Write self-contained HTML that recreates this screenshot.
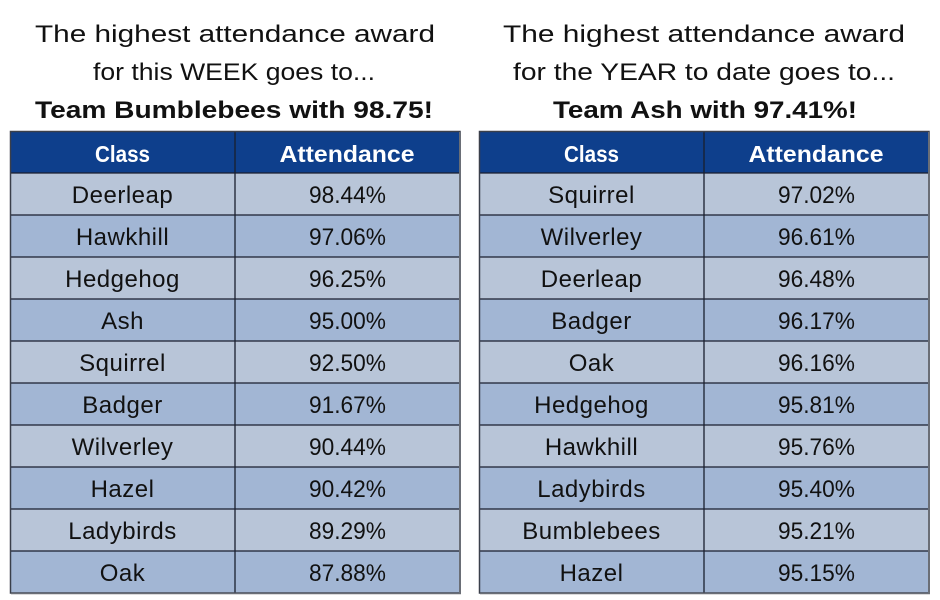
<!DOCTYPE html>
<html><head><meta charset="utf-8"><style>
html,body{margin:0;padding:0;background:#fff;}
svg{display:block;}
text{font-family:"Liberation Sans",sans-serif;}
</style></head><body>
<svg width="940" height="600" viewBox="0 0 940 600" xmlns="http://www.w3.org/2000/svg">
<rect width="940" height="600" fill="#fff"/>
<!-- Titles -->
<g font-size="24" fill="#111" text-anchor="middle">
<text x="235" y="42" textLength="400" lengthAdjust="spacingAndGlyphs">The highest attendance award</text>
<text x="234" y="80" textLength="282" lengthAdjust="spacingAndGlyphs">for this WEEK goes to...</text>
<text x="234" y="118" font-weight="bold" textLength="398" lengthAdjust="spacingAndGlyphs">Team Bumblebees with 98.75!</text>
<text x="704" y="42" textLength="402" lengthAdjust="spacingAndGlyphs">The highest attendance award</text>
<text x="704" y="80" textLength="382" lengthAdjust="spacingAndGlyphs">for the YEAR to date goes to...</text>
<text x="705" y="118" font-weight="bold" textLength="304" lengthAdjust="spacingAndGlyphs">Team Ash with 97.41%!</text>
</g>

<!-- Left table -->
<g>
<rect x="10" y="131" width="450" height="42" fill="#0e3f8c"/>
<rect x="10" y="173" width="450" height="42" fill="#b8c5d8"/>
<rect x="10" y="215" width="450" height="42" fill="#a2b6d4"/>
<rect x="10" y="257" width="450" height="42" fill="#b8c5d8"/>
<rect x="10" y="299" width="450" height="42" fill="#a2b6d4"/>
<rect x="10" y="341" width="450" height="42" fill="#b8c5d8"/>
<rect x="10" y="383" width="450" height="42" fill="#a2b6d4"/>
<rect x="10" y="425" width="450" height="42" fill="#b8c5d8"/>
<rect x="10" y="467" width="450" height="42" fill="#a2b6d4"/>
<rect x="10" y="509" width="450" height="42" fill="#b8c5d8"/>
<rect x="10" y="551" width="450" height="42" fill="#a2b6d4"/>
<g stroke="#1a1f2e" stroke-width="1.3">
<line x1="10" y1="173" x2="460" y2="173"/>
<line x1="10" y1="215" x2="460" y2="215"/>
<line x1="10" y1="257" x2="460" y2="257"/>
<line x1="10" y1="299" x2="460" y2="299"/>
<line x1="10" y1="341" x2="460" y2="341"/>
<line x1="10" y1="383" x2="460" y2="383"/>
<line x1="10" y1="425" x2="460" y2="425"/>
<line x1="10" y1="467" x2="460" y2="467"/>
<line x1="10" y1="509" x2="460" y2="509"/>
<line x1="10" y1="551" x2="460" y2="551"/>
<line x1="235" y1="131" x2="235" y2="593"/>
</g>
<rect x="10.5" y="131.5" width="449.5" height="461.5" fill="none" stroke="#3a3f4a" stroke-width="1.5"/>
<line x1="460" y1="132" x2="460" y2="594" stroke="#6a6e76" stroke-width="2"/>
<line x1="11" y1="593.5" x2="461" y2="593.5" stroke="#6a6e76" stroke-width="1.5"/>
<g font-size="23" font-weight="bold" fill="#fff" text-anchor="middle">
<text x="122.5" y="162" textLength="55" lengthAdjust="spacingAndGlyphs">Class</text>
<text x="347" y="162" textLength="135" lengthAdjust="spacingAndGlyphs">Attendance</text>
</g>
<g font-size="24" fill="#111" text-anchor="middle" letter-spacing="0.5">
<text x="122.5" y="203">Deerleap</text>
<text x="122.5" y="245">Hawkhill</text>
<text x="122.5" y="287">Hedgehog</text>
<text x="122.5" y="329">Ash</text>
<text x="122.5" y="371">Squirrel</text>
<text x="122.5" y="413">Badger</text>
<text x="122.5" y="455">Wilverley</text>
<text x="122.5" y="497">Hazel</text>
<text x="122.5" y="539">Ladybirds</text>
<text x="122.5" y="581">Oak</text>
</g>
<g font-size="24" fill="#111" text-anchor="middle">
<text x="347.5" y="203" textLength="77" lengthAdjust="spacingAndGlyphs">98.44%</text>
<text x="347.5" y="245" textLength="77" lengthAdjust="spacingAndGlyphs">97.06%</text>
<text x="347.5" y="287" textLength="77" lengthAdjust="spacingAndGlyphs">96.25%</text>
<text x="347.5" y="329" textLength="77" lengthAdjust="spacingAndGlyphs">95.00%</text>
<text x="347.5" y="371" textLength="77" lengthAdjust="spacingAndGlyphs">92.50%</text>
<text x="347.5" y="413" textLength="77" lengthAdjust="spacingAndGlyphs">91.67%</text>
<text x="347.5" y="455" textLength="77" lengthAdjust="spacingAndGlyphs">90.44%</text>
<text x="347.5" y="497" textLength="77" lengthAdjust="spacingAndGlyphs">90.42%</text>
<text x="347.5" y="539" textLength="77" lengthAdjust="spacingAndGlyphs">89.29%</text>
<text x="347.5" y="581" textLength="77" lengthAdjust="spacingAndGlyphs">87.88%</text>
</g>
</g>

<!-- Right table -->
<g>
<rect x="479" y="131" width="450" height="42" fill="#0e3f8c"/>
<rect x="479" y="173" width="450" height="42" fill="#b8c5d8"/>
<rect x="479" y="215" width="450" height="42" fill="#a2b6d4"/>
<rect x="479" y="257" width="450" height="42" fill="#b8c5d8"/>
<rect x="479" y="299" width="450" height="42" fill="#a2b6d4"/>
<rect x="479" y="341" width="450" height="42" fill="#b8c5d8"/>
<rect x="479" y="383" width="450" height="42" fill="#a2b6d4"/>
<rect x="479" y="425" width="450" height="42" fill="#b8c5d8"/>
<rect x="479" y="467" width="450" height="42" fill="#a2b6d4"/>
<rect x="479" y="509" width="450" height="42" fill="#b8c5d8"/>
<rect x="479" y="551" width="450" height="42" fill="#a2b6d4"/>
<g stroke="#1a1f2e" stroke-width="1.3">
<line x1="479" y1="173" x2="929" y2="173"/>
<line x1="479" y1="215" x2="929" y2="215"/>
<line x1="479" y1="257" x2="929" y2="257"/>
<line x1="479" y1="299" x2="929" y2="299"/>
<line x1="479" y1="341" x2="929" y2="341"/>
<line x1="479" y1="383" x2="929" y2="383"/>
<line x1="479" y1="425" x2="929" y2="425"/>
<line x1="479" y1="467" x2="929" y2="467"/>
<line x1="479" y1="509" x2="929" y2="509"/>
<line x1="479" y1="551" x2="929" y2="551"/>
<line x1="704" y1="131" x2="704" y2="593"/>
</g>
<rect x="479.5" y="131.5" width="449.5" height="461.5" fill="none" stroke="#3a3f4a" stroke-width="1.5"/>
<line x1="929" y1="132" x2="929" y2="594" stroke="#6a6e76" stroke-width="2"/>
<line x1="480" y1="593.5" x2="930" y2="593.5" stroke="#6a6e76" stroke-width="1.5"/>
<g font-size="23" font-weight="bold" fill="#fff" text-anchor="middle">
<text x="591.5" y="162" textLength="55" lengthAdjust="spacingAndGlyphs">Class</text>
<text x="816" y="162" textLength="135" lengthAdjust="spacingAndGlyphs">Attendance</text>
</g>
<g font-size="24" fill="#111" text-anchor="middle" letter-spacing="0.5">
<text x="591.5" y="203">Squirrel</text>
<text x="591.5" y="245">Wilverley</text>
<text x="591.5" y="287">Deerleap</text>
<text x="591.5" y="329">Badger</text>
<text x="591.5" y="371">Oak</text>
<text x="591.5" y="413">Hedgehog</text>
<text x="591.5" y="455">Hawkhill</text>
<text x="591.5" y="497">Ladybirds</text>
<text x="591.5" y="539">Bumblebees</text>
<text x="591.5" y="581">Hazel</text>
</g>
<g font-size="24" fill="#111" text-anchor="middle">
<text x="816.5" y="203" textLength="77" lengthAdjust="spacingAndGlyphs">97.02%</text>
<text x="816.5" y="245" textLength="77" lengthAdjust="spacingAndGlyphs">96.61%</text>
<text x="816.5" y="287" textLength="77" lengthAdjust="spacingAndGlyphs">96.48%</text>
<text x="816.5" y="329" textLength="77" lengthAdjust="spacingAndGlyphs">96.17%</text>
<text x="816.5" y="371" textLength="77" lengthAdjust="spacingAndGlyphs">96.16%</text>
<text x="816.5" y="413" textLength="77" lengthAdjust="spacingAndGlyphs">95.81%</text>
<text x="816.5" y="455" textLength="77" lengthAdjust="spacingAndGlyphs">95.76%</text>
<text x="816.5" y="497" textLength="77" lengthAdjust="spacingAndGlyphs">95.40%</text>
<text x="816.5" y="539" textLength="77" lengthAdjust="spacingAndGlyphs">95.21%</text>
<text x="816.5" y="581" textLength="77" lengthAdjust="spacingAndGlyphs">95.15%</text>
</g>
</g>
</svg>
</body></html>
